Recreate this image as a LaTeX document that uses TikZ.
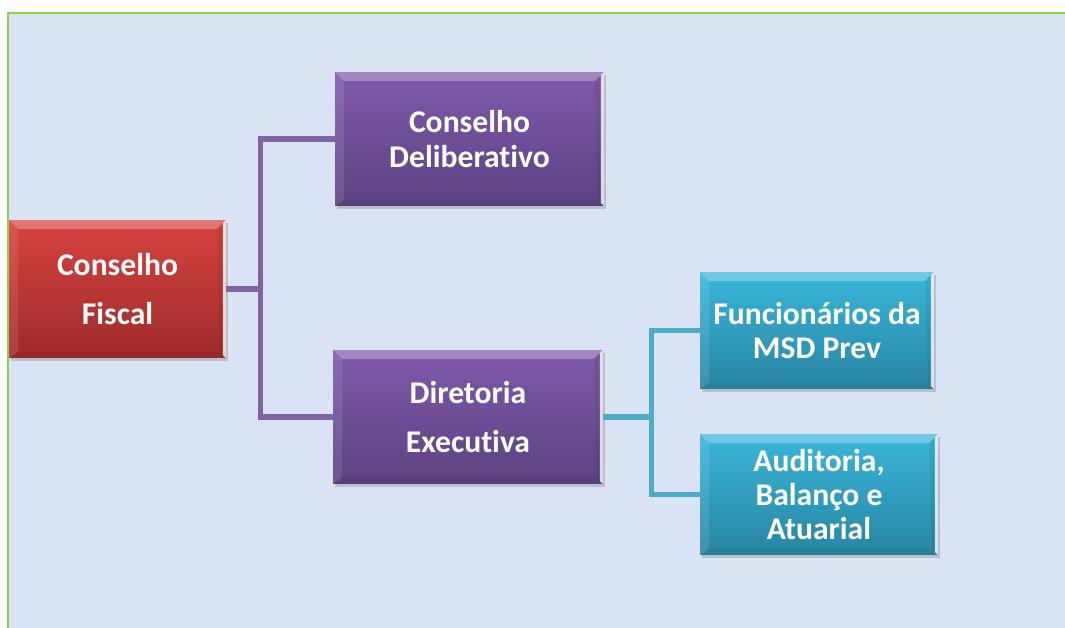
\documentclass[tikz,border=0pt]{standalone}
\usepackage{fontspec}
\setmainfont{Carlito}[Ligatures=NoCommon]
\usetikzlibrary{shadows}

\definecolor{bgblue}{HTML}{DAE3F3}
\definecolor{framegreen}{HTML}{92D050}
\definecolor{redtop}{HTML}{D6433F}
\definecolor{redbot}{HTML}{9E2B2B}
\definecolor{lilactop}{HTML}{8059AA}
\definecolor{lilacbot}{HTML}{5C4282}
\definecolor{cyantop}{HTML}{3AB6DA}
\definecolor{cyanbot}{HTML}{2885A2}
\definecolor{lilacline}{HTML}{8064A2}
\definecolor{cyanline}{HTML}{4BACC6}

% bevel drawn inside each box
\newcommand\orgbevel{%
  \coordinate (nw) at (path picture bounding box.north west);
  \coordinate (ne) at (path picture bounding box.north east);
  \coordinate (sw) at (path picture bounding box.south west);
  \coordinate (se) at (path picture bounding box.south east);
  \fill[white,opacity=.28] (nw) -- (ne) -- ([shift={(-.18cm,-.18cm)}]ne) -- ([shift={(.18cm,-.18cm)}]nw) -- cycle;
  \fill[white,opacity=.10] (nw) -- ([shift={(.18cm,-.18cm)}]nw) -- ([shift={(.18cm,.12cm)}]sw) -- (sw) -- cycle;
  \fill[black,opacity=.05] (sw) -- (se) -- ([shift={(-.12cm,.12cm)}]se) -- ([shift={(.18cm,.12cm)}]sw) -- cycle;
  \fill[black,opacity=.06] (ne) -- (se) -- ([shift={(-.12cm,.12cm)}]se) -- ([shift={(-.18cm,-.18cm)}]ne) -- cycle;
  \fill[white,opacity=.8] (ne) -- (se) -- ([shift={(-.06cm,.06cm)}]se) -- ([shift={(-.06cm,-.06cm)}]ne) -- cycle;
}

\tikzset{
  orgbox/.style={rectangle, inner sep=0pt, text=white, align=center,
    font=\fontsize{18}{19.5}\selectfont\bfseries,
    drop shadow={opacity=.35, shadow xshift=.04cm, shadow yshift=-.06cm},
    path picture=\orgbevel},
  tallbox/.style={font=\fontsize{18}{27.5}\selectfont\bfseries},
  redbox/.style={orgbox, top color=redtop, bottom color=redbot},
  lilacbox/.style={orgbox, top color=lilactop, bottom color=lilacbot},
  cyanbox/.style={orgbox, top color=cyantop, bottom color=cyanbot},
  link/.style={line width=3pt},
}

\begin{document}
\begin{tikzpicture}[x=0.02cm, y=-0.02cm]
  \useasboundingbox (0,0) rectangle (1065,628);

  % Background and frame
  \fill[white] (0,0) rectangle (1065,628);
  \fill[bgblue] (8,13) rectangle (1075,640);
  \draw[framegreen, line width=1.2pt] (8,640) -- (8,13) -- (1075,13);

  % Boxes
  \node[redbox, tallbox, minimum width=4.34cm, minimum height=2.76cm] (fiscal) at (117.5,289) {Conselho\\Fiscal};
  \node[lilacbox, minimum width=5.38cm, minimum height=2.68cm] (delib) at (469.5,139) {Conselho\\Deliberativo};
  \node[lilacbox, tallbox, minimum width=5.4cm, minimum height=2.68cm] (diret) at (468,417) {Diretoria\\Executiva};
  \node[cyanbox, minimum width=4.68cm, minimum height=2.34cm] (func) at (817,330.5) {Funcionários da\\MSD Prev};
  \node[cyanbox, minimum width=4.76cm, minimum height=2.42cm] (audit) at (819,494.5) {Auditoria,\\Balanço e\\Atuarial};

  % Connectors
  \draw[link, lilacline] (fiscal.east) -- ++(34,0) coordinate (fj) |- (delib.west);
  \draw[link, lilacline] (fj) |- (diret.west);
  \draw[link, cyanline] (diret.east) -- ++(48,0) coordinate (dj) |- (func.west);
  \draw[link, cyanline] (dj) |- (audit.west);
\end{tikzpicture}
\end{document}
